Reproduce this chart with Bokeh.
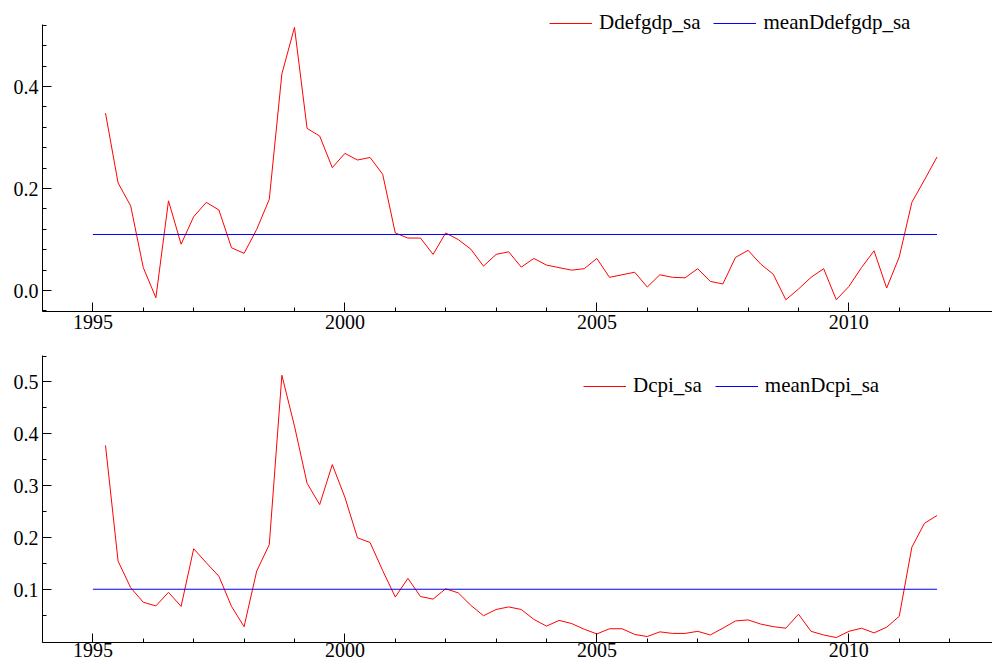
from bokeh.plotting import figure
from bokeh.layouts import column
from bokeh.models import Range1d, FixedTicker, Legend, LegendItem, PrintfTickFormatter
from bokeh.embed import file_html
from bokeh.resources import INLINE

# ---------------- data ----------------
quarters = [1995.25, 1995.5, 1995.75,
            1996.0, 1996.25, 1996.5, 1996.75,
            1997.0, 1997.25, 1997.5, 1997.75,
            1998.0, 1998.25, 1998.5, 1998.75,
            1999.0, 1999.25, 1999.5, 1999.75,
            2000.0, 2000.25, 2000.5, 2000.75,
            2001.0, 2001.25, 2001.5, 2001.75,
            2002.0, 2002.25, 2002.5, 2002.75,
            2003.0, 2003.25, 2003.5, 2003.75,
            2004.0, 2004.25, 2004.5, 2004.75,
            2005.0, 2005.25, 2005.5, 2005.75,
            2006.0, 2006.25, 2006.5, 2006.75,
            2007.0, 2007.25, 2007.5, 2007.75,
            2008.0, 2008.25, 2008.5, 2008.75,
            2009.0, 2009.25, 2009.5, 2009.75,
            2010.0, 2010.25, 2010.5, 2010.75,
            2011.0, 2011.25, 2011.5, 2011.75]

ddefgdp_sa = [0.348, 0.211, 0.166,
              0.045, -0.014, 0.176, 0.091,
              0.145, 0.173, 0.158, 0.084,
              0.073, 0.120, 0.179, 0.425,
              0.516, 0.318, 0.303, 0.241,
              0.269, 0.256, 0.261, 0.228,
              0.113, 0.103, 0.103, 0.071,
              0.113, 0.100, 0.081, 0.048,
              0.071, 0.076, 0.046, 0.063,
              0.050, 0.045, 0.040, 0.043,
              0.063, 0.026, 0.031, 0.036,
              0.007, 0.031, 0.026, 0.025,
              0.043, 0.018, 0.013, 0.065,
              0.079, 0.052, 0.032, -0.018,
              0.003, 0.026, 0.043, -0.018,
              0.008, 0.045, 0.078, 0.005,
              0.066, 0.173, 0.217, 0.262]

dcpi_sa = [0.378, 0.155, 0.104,
           0.076, 0.069, 0.095, 0.068,
           0.179, 0.152, 0.126, 0.068,
           0.029, 0.136, 0.187, 0.513,
           0.415, 0.305, 0.264, 0.341,
           0.278, 0.200, 0.191, 0.137,
           0.086, 0.122, 0.087, 0.082,
           0.102, 0.094, 0.070, 0.050,
           0.062, 0.067, 0.062, 0.043,
           0.030, 0.041, 0.035, 0.024,
           0.015, 0.025, 0.025, 0.014,
           0.010, 0.019, 0.016, 0.016,
           0.020, 0.013, 0.026, 0.040,
           0.042, 0.034, 0.029, 0.026,
           0.053, 0.020, 0.013, 0.008,
           0.020, 0.026, 0.017, 0.028,
           0.049, 0.182, 0.228, 0.243]

mean_period = [1995.0, 2011.75]
mean_ddefgdp_sa = [0.110, 0.110]
mean_dcpi_sa = [0.101, 0.101]

x_major = [1995, 2000, 2005, 2010]
x_minor = [1994, 1995, 1996, 1997, 1998, 1999, 2000, 2001, 2002, 2003,
           2004, 2005, 2006, 2007, 2008, 2009, 2010, 2011, 2012]
top_major = [0.0, 0.2, 0.4]
top_minor = [-0.04, 0.0, 0.04, 0.08, 0.12, 0.16, 0.2, 0.24, 0.28, 0.32,
             0.36, 0.4, 0.44, 0.48, 0.52]
bottom_major = [0.1, 0.2, 0.3, 0.4, 0.5]
bottom_minor = [0.05, 0.1, 0.15, 0.2, 0.25, 0.3, 0.35, 0.4, 0.45, 0.5, 0.55]

FONT = "Liberation Serif"


def style(p, yticks, yminor):
    p.xaxis.ticker = FixedTicker(ticks=x_major, minor_ticks=x_minor)
    p.yaxis.ticker = FixedTicker(ticks=yticks, minor_ticks=yminor)
    p.xaxis.formatter = PrintfTickFormatter(format="%d")
    p.yaxis.formatter = PrintfTickFormatter(format="%.1f")
    for ax in (p.xaxis[0], p.yaxis[0]):
        ax.major_tick_in = 9
        ax.major_tick_out = 0
        ax.minor_tick_in = 4
        ax.minor_tick_out = 0
        ax.axis_line_color = "black"
        ax.major_tick_line_color = "black"
        ax.minor_tick_line_color = "black"
        ax.major_label_text_font = FONT
        ax.major_label_text_font_size = "20px"
        ax.major_label_text_color = "black"
    p.xaxis.major_label_standoff = 3
    p.yaxis.major_label_standoff = 4
    p.xgrid.visible = False
    p.ygrid.visible = False
    p.outline_line_color = None
    p.background_fill_color = "white"
    p.border_fill_color = "white"


def add_legend(p, r1, l1, r2, l2, loc):
    leg = Legend(items=[LegendItem(label=l1, renderers=[r1]),
                        LegendItem(label=l2, renderers=[r2])],
                 orientation="horizontal", location=loc,
                 glyph_width=43, glyph_height=20, label_height=20,
                 label_standoff=7, spacing=13, padding=0, margin=0,
                 border_line_color=None, background_fill_alpha=0,
                 label_text_font=FONT, label_text_font_size="21px",
                 label_text_color="black")
    p.add_layout(leg)


x_lo, x_hi = 1994.0, 2012.85

# top panel: frame reaches higher than the axis line so the legend fits inside it
p1 = figure(width=992, height=338, output_backend="svg", toolbar_location=None,
            x_range=Range1d(x_lo, x_hi), y_range=Range1d(-0.041, 0.557),
            min_border_left=42, min_border_right=0, min_border_top=6,
            min_border_bottom=27)
r1 = p1.line(quarters, ddefgdp_sa, line_color="red", line_width=1)
r2 = p1.line(mean_period, mean_ddefgdp_sa, line_color="blue", line_width=1)
style(p1, top_major, top_minor)
p1.yaxis.bounds = (-0.041, 0.521)
add_legend(p1, r1, "Ddefgdp_sa", r2, "meanDdefgdp_sa", (507, 276))

p2 = figure(width=992, height=326, output_backend="svg", toolbar_location=None,
            x_range=Range1d(x_lo, x_hi), y_range=Range1d(-0.0015, 0.551),
            min_border_left=42, min_border_right=0, min_border_top=17,
            min_border_bottom=22)
r3 = p2.line(quarters, dcpi_sa, line_color="red", line_width=1)
r4 = p2.line(mean_period, mean_dcpi_sa, line_color="blue", line_width=1)
style(p2, bottom_major, bottom_minor)
p2.xaxis.major_label_standoff = 0
add_legend(p2, r3, "Dcpi_sa", r4, "meanDcpi_sa", (541, 244))

layout = column(p1, p2, spacing=0)

open("out.html", "w").write(file_html(layout, INLINE))
